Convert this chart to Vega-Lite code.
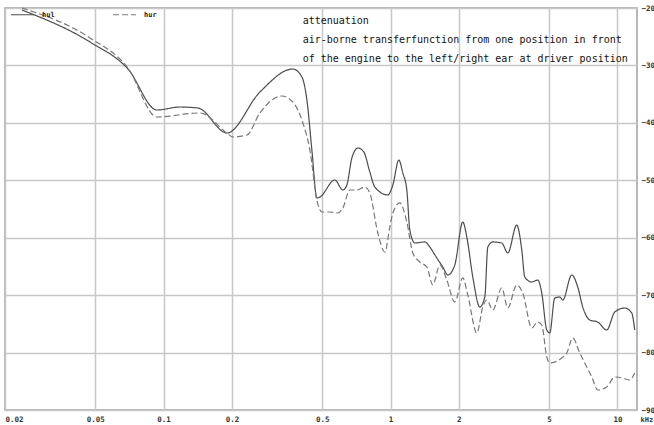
{
  "$schema": "https://vega.github.io/schema/vega-lite/v6.json",
  "width": 632,
  "height": 402,
  "autosize": {"type": "none"},
  "padding": {"left": 5, "top": 8, "right": 17, "bottom": 15},
  "background": "white",
  "config": {
    "view": {"stroke": "#a0a0a0", "strokeWidth": 1.5},
    "axis": {
      "labelFont": "DejaVu Sans Mono",
      "labelFontSize": 7.5,
      "labelFontWeight": "bold",
      "labelColor": "#333333",
      "ticks": false,
      "domain": false,
      "grid": true,
      "gridColor": "#c8c8c8",
      "gridWidth": 1.5
    }
  },
  "layer": [
    {
      "data": {
        "values": [
          {"ch": "hul", "f": 0.02376, "dB": -20.35},
          {"ch": "hul", "f": 0.04737, "dB": -25.92},
          {"ch": "hul", "f": 0.06966, "dB": -30.62},
          {"ch": "hul", "f": 0.09348, "dB": -37.76},
          {"ch": "hul", "f": 0.1180, "dB": -37.24},
          {"ch": "hul", "f": 0.1417, "dB": -37.41},
          {"ch": "hul", "f": 0.1901, "dB": -41.77},
          {"ch": "hul", "f": 0.2657, "dB": -34.63},
          {"ch": "hul", "f": 0.3714, "dB": -30.62},
          {"ch": "hul", "f": 0.4069, "dB": -32.01},
          {"ch": "hul", "f": 0.4281, "dB": -36.02},
          {"ch": "hul", "f": 0.4503, "dB": -44.73},
          {"ch": "hul", "f": 0.4737, "dB": -53.08},
          {"ch": "hul", "f": 0.4884, "dB": -52.91},
          {"ch": "hul", "f": 0.5686, "dB": -49.95},
          {"ch": "hul", "f": 0.6167, "dB": -51.69},
          {"ch": "hul", "f": 0.6422, "dB": -50.82},
          {"ch": "hul", "f": 0.6756, "dB": -46.12},
          {"ch": "hul", "f": 0.7180, "dB": -44.38},
          {"ch": "hul", "f": 0.7629, "dB": -45.07},
          {"ch": "hul", "f": 0.8108, "dB": -48.56},
          {"ch": "hul", "f": 0.8529, "dB": -51.17},
          {"ch": "hul", "f": 0.9734, "dB": -52.56},
          {"ch": "hul", "f": 1.0241, "dB": -50.82},
          {"ch": "hul", "f": 1.0881, "dB": -46.47},
          {"ch": "hul", "f": 1.1331, "dB": -48.73},
          {"ch": "hul", "f": 1.1801, "dB": -51.69},
          {"ch": "hul", "f": 1.2166, "dB": -58.66},
          {"ch": "hul", "f": 1.2800, "dB": -60.92},
          {"ch": "hul", "f": 1.4166, "dB": -60.74},
          {"ch": "hul", "f": 1.4904, "dB": -61.62},
          {"ch": "hul", "f": 1.6000, "dB": -63.53},
          {"ch": "hul", "f": 1.7004, "dB": -65.10},
          {"ch": "hul", "f": 1.7888, "dB": -66.49},
          {"ch": "hul", "f": 1.9204, "dB": -64.75},
          {"ch": "hul", "f": 2.0828, "dB": -57.26},
          {"ch": "hul", "f": 2.1690, "dB": -59.87},
          {"ch": "hul", "f": 2.3052, "dB": -66.84},
          {"ch": "hul", "f": 2.4750, "dB": -72.07},
          {"ch": "hul", "f": 2.6038, "dB": -70.33},
          {"ch": "hul", "f": 2.6844, "dB": -61.62},
          {"ch": "hul", "f": 2.8238, "dB": -60.74},
          {"ch": "hul", "f": 3.0930, "dB": -60.92},
          {"ch": "hul", "f": 3.2879, "dB": -62.66},
          {"ch": "hul", "f": 3.6008, "dB": -57.79},
          {"ch": "hul", "f": 3.7898, "dB": -62.14},
          {"ch": "hul", "f": 3.9070, "dB": -66.84},
          {"ch": "hul", "f": 4.1942, "dB": -67.71},
          {"ch": "hul", "f": 4.4568, "dB": -67.36},
          {"ch": "hul", "f": 4.6412, "dB": -69.63},
          {"ch": "hul", "f": 4.8826, "dB": -76.07},
          {"ch": "hul", "f": 5.0334, "dB": -76.59},
          {"ch": "hul", "f": 5.2952, "dB": -70.50},
          {"ch": "hul", "f": 5.5706, "dB": -70.33},
          {"ch": "hul", "f": 5.7428, "dB": -70.85},
          {"ch": "hul", "f": 6.2918, "dB": -66.49},
          {"ch": "hul", "f": 6.686, "dB": -68.58},
          {"ch": "hul", "f": 7.036, "dB": -72.07},
          {"ch": "hul", "f": 7.554, "dB": -74.33},
          {"ch": "hul", "f": 8.192, "dB": -74.68},
          {"ch": "hul", "f": 8.974, "dB": -76.07},
          {"ch": "hul", "f": 9.734, "dB": -72.94},
          {"ch": "hul", "f": 10.772, "dB": -72.24},
          {"ch": "hul", "f": 11.564, "dB": -73.11},
          {"ch": "hul", "f": 11.922, "dB": -76.07},

          {"ch": "hur", "f": 0.02376, "dB": -20.0},
          {"ch": "hur", "f": 0.04737, "dB": -25.22},
          {"ch": "hur", "f": 0.06966, "dB": -30.45},
          {"ch": "hur", "f": 0.09348, "dB": -38.98},
          {"ch": "hur", "f": 0.1446, "dB": -38.28},
          {"ch": "hur", "f": 0.1901, "dB": -41.77},
          {"ch": "hur", "f": 0.2020, "dB": -42.46},
          {"ch": "hur", "f": 0.2329, "dB": -42.11},
          {"ch": "hur", "f": 0.2657, "dB": -38.28},
          {"ch": "hur", "f": 0.3321, "dB": -35.32},
          {"ch": "hur", "f": 0.3714, "dB": -36.37},
          {"ch": "hur", "f": 0.4110, "dB": -40.02},
          {"ch": "hur", "f": 0.4413, "dB": -44.73},
          {"ch": "hur", "f": 0.4737, "dB": -53.43},
          {"ch": "hur", "f": 0.4984, "dB": -55.52},
          {"ch": "hur", "f": 0.5405, "dB": -55.52},
          {"ch": "hur", "f": 0.5862, "dB": -55.70},
          {"ch": "hur", "f": 0.6167, "dB": -54.82},
          {"ch": "hur", "f": 0.6620, "dB": -51.69},
          {"ch": "hur", "f": 0.7107, "dB": -51.69},
          {"ch": "hur", "f": 0.7707, "dB": -51.17},
          {"ch": "hur", "f": 0.8108, "dB": -52.21},
          {"ch": "hur", "f": 0.8793, "dB": -59.18},
          {"ch": "hur", "f": 0.9442, "dB": -62.49},
          {"ch": "hur", "f": 0.9934, "dB": -58.13},
          {"ch": "hur", "f": 1.0241, "dB": -55.70},
          {"ch": "hur", "f": 1.0992, "dB": -53.95},
          {"ch": "hur", "f": 1.1801, "dB": -57.26},
          {"ch": "hur", "f": 1.2542, "dB": -62.66},
          {"ch": "hur", "f": 1.3466, "dB": -64.23},
          {"ch": "hur", "f": 1.4457, "dB": -65.10},
          {"ch": "hur", "f": 1.5365, "dB": -68.23},
          {"ch": "hur", "f": 1.6494, "dB": -64.75},
          {"ch": "hur", "f": 1.7708, "dB": -67.36},
          {"ch": "hur", "f": 1.9204, "dB": -71.20},
          {"ch": "hur", "f": 2.0828, "dB": -67.01},
          {"ch": "hur", "f": 2.1911, "dB": -69.98},
          {"ch": "hur", "f": 2.4008, "dB": -76.59},
          {"ch": "hur", "f": 2.5514, "dB": -72.07},
          {"ch": "hur", "f": 2.6573, "dB": -70.85},
          {"ch": "hur", "f": 2.8238, "dB": -72.59},
          {"ch": "hur", "f": 3.0930, "dB": -68.76},
          {"ch": "hur", "f": 3.2879, "dB": -72.24},
          {"ch": "hur", "f": 3.6008, "dB": -68.23},
          {"ch": "hur", "f": 3.8284, "dB": -69.63},
          {"ch": "hur", "f": 4.1942, "dB": -75.72},
          {"ch": "hur", "f": 4.4568, "dB": -74.68},
          {"ch": "hur", "f": 4.6412, "dB": -75.20},
          {"ch": "hur", "f": 4.8826, "dB": -80.77},
          {"ch": "hur", "f": 5.0334, "dB": -81.81},
          {"ch": "hur", "f": 5.6848, "dB": -80.94},
          {"ch": "hur", "f": 5.9806, "dB": -80.07},
          {"ch": "hur", "f": 6.356, "dB": -77.46},
          {"ch": "hur", "f": 6.824, "dB": -80.07},
          {"ch": "hur", "f": 7.328, "dB": -82.51},
          {"ch": "hur", "f": 7.708, "dB": -84.25},
          {"ch": "hur", "f": 8.192, "dB": -86.52},
          {"ch": "hur", "f": 8.974, "dB": -86.00},
          {"ch": "hur", "f": 9.734, "dB": -84.25},
          {"ch": "hur", "f": 10.556, "dB": -84.43},
          {"ch": "hur", "f": 11.332, "dB": -84.78},
          {"ch": "hur", "f": 11.922, "dB": -83.56}
        ]
      },
      "mark": {"type": "line", "interpolate": "monotone", "strokeWidth": 1.2},
      "encoding": {
        "x": {
          "field": "f",
          "type": "quantitative",
          "scale": {"type": "log", "domain": [0.02, 12.2], "nice": false},
          "axis": {
            "orient": "bottom",
            "values": [0.02, 0.05, 0.1, 0.2, 0.5, 1, 2, 5, 10],
            "format": "~g",
            "labelPadding": 5,
            "labelFlush": true,
            "title": "kHz",
            "titleX": 635,
            "titleY": 5,
            "titleAlign": "left",
            "titleBaseline": "top",
            "titleAnchor": null,
            "titleFont": "DejaVu Sans Mono",
            "titleFontSize": 7,
            "titleFontWeight": "bold",
            "titleColor": "#333333"
          }
        },
        "y": {
          "field": "dB",
          "type": "quantitative",
          "scale": {"domain": [-90, -20], "nice": false, "zero": false},
          "axis": {
            "orient": "right",
            "values": [-20, -30, -40, -50, -60, -70, -80, -90],
            "labelPadding": 4,
            "labelFlush": false,
            "title": null
          }
        },
        "color": {
          "field": "ch",
          "type": "nominal",
          "scale": {"domain": ["hul", "hur"], "range": ["#4c4c4c", "#787878"]},
          "legend": {
            "orient": "none",
            "legendX": 5,
            "legendY": -6,
            "direction": "horizontal",
            "title": null,
            "padding": 0,
            "symbolType": "stroke",
            "symbolSize": 529,
            "symbolStrokeWidth": 1.2,
            "labelFont": "DejaVu Sans Mono",
            "labelFontSize": 7,
            "labelFontWeight": "bold",
            "labelColor": "#222222",
            "labelOffset": 7,
            "columnPadding": 55
          }
        },
        "strokeDash": {
          "field": "ch",
          "type": "nominal",
          "scale": {"domain": ["hul", "hur"], "range": [[1, 0], [6, 3]]},
          "legend": {
            "orient": "none",
            "legendX": 5,
            "legendY": -6,
            "direction": "horizontal",
            "title": null,
            "padding": 0,
            "symbolType": "stroke",
            "symbolSize": 529,
            "symbolStrokeWidth": 1.2,
            "labelFont": "DejaVu Sans Mono",
            "labelFontSize": 7,
            "labelFontWeight": "bold",
            "labelColor": "#222222",
            "labelOffset": 7,
            "columnPadding": 55
          }
        }
      }
    },
    {
      "data": {"values": [{}]},
      "mark": {
        "type": "text",
        "text": [
          "attenuation",
          "air-borne transferfunction from one position in front",
          "of the engine to the left/right ear at driver position"
        ],
        "align": "left",
        "baseline": "top",
        "lineHeight": 19,
        "font": "DejaVu Sans Mono",
        "fontSize": 10,
        "color": "#111111"
      },
      "encoding": {
        "x": {"datum": 0.41, "type": "quantitative"},
        "y": {"datum": -21.4, "type": "quantitative"}
      }
    }
  ]
}
